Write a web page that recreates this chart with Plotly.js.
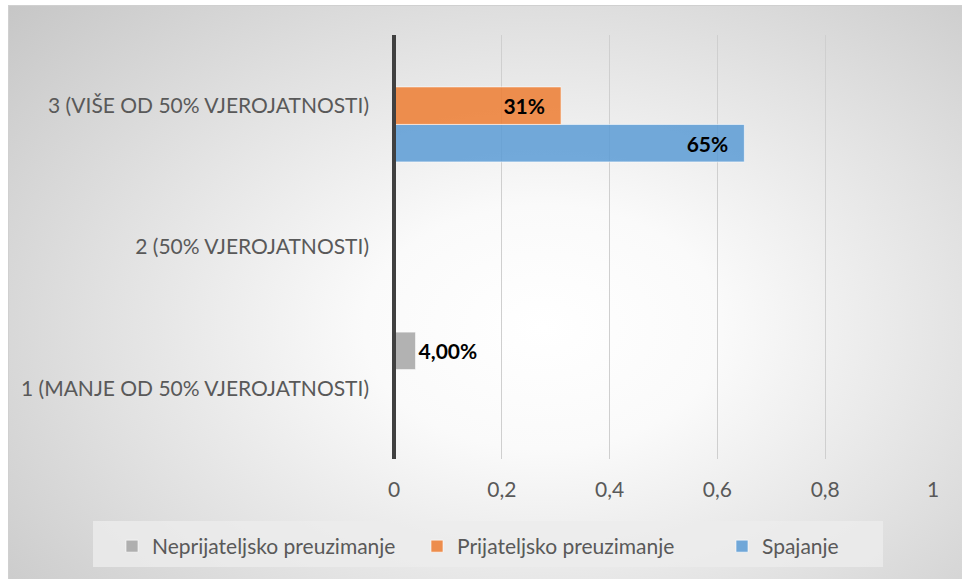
<!DOCTYPE html>
<html>
<head>
<meta charset="utf-8">
<script src="https://cdn.plot.ly/plotly-3.0.1.min.js"></script>
<style>
  html, body { margin:0; padding:0; background:#ffffff; }
  #wrap { position:absolute; left:0; top:0; width:962px; height:579px; overflow:hidden; }
  #bg { position:absolute; left:8px; top:5px; width:954px; height:574px;
        border-top:1px solid #d0d0d0; border-left:1px solid #d0d0d0;
        background: radial-gradient(ellipse 75% 85% at 56% 56%, #ffffff 0%, #fafafa 25%, #e2e2e2 60%, #c6c6c6 100%); }
  #chart { position:absolute; left:0; top:0; width:962px; height:579px; }
</style>
</head>
<body>
<div id="wrap">
  <div id="bg"></div>
  <div id="chart"></div>
</div>
<script>
const categories = ["1 (MANJE OD 50% VJEROJATNOSTI)", "2 (50% VJEROJATNOSTI)", "3 (VIŠE OD 50% VJEROJATNOSTI)"];
const seriesNames = ["Neprijateljsko preuzimanje", "Prijateljsko preuzimanje", "Spajanje"];
const neprijateljsko = [0.04, null, null];
const prijateljsko = [null, null, 0.31];
const spajanje = [null, null, 0.65];
const neprijateljskoLabels = ["4,00%", "", ""];
const prijateljskoLabels = ["", "", "31%"];
const spajanjeLabels = ["", "", "65%"];
const xTicks = [0, 0.2, 0.4, 0.6, 0.8, 1];

const FONT = "Lato, 'Open Sans', sans-serif";
const labelFont = {family: FONT, size: 21, color: "#000000", weight: "bold"};
const insidePad = "\u2002\u2009";

// plot area in px: x 394..933, y 35..459
const PL = 394, PW = 539, PT = 35, PH = 424;
const px2x = p => (p - PL) / PW;
const py2y = p => (PT + PH - p) / PH;

const traces = [
  {type:"bar", orientation:"h", name: seriesNames[2], y: categories, x: spajanje,
   text: spajanjeLabels, texttemplate: "%{text}" + insidePad,
   textposition: "inside", insidetextanchor: "end",
   textfont: labelFont,
   marker:{color:"rgba(91,155,213,0.85)", line:{color:"rgba(255,255,255,0.6)", width:1}},
   legendrank: 3, hoverinfo:"x+name"},
  {type:"bar", orientation:"h", name: seriesNames[1], y: categories, x: prijateljsko,
   text: prijateljskoLabels, texttemplate: "%{text}" + insidePad,
   textposition: "inside", insidetextanchor: "end",
   textfont: labelFont,
   marker:{color:"rgba(237,125,49,0.85)", line:{color:"rgba(255,255,255,0.6)", width:1}},
   legendrank: 2, hoverinfo:"x+name"},
  {type:"bar", orientation:"h", name: seriesNames[0], y: categories, x: neprijateljsko,
   text: neprijateljskoLabels, textposition: "outside",
   textfont: labelFont, cliponaxis:false,
   marker:{color:"rgba(165,165,165,0.85)", line:{color:"rgba(255,255,255,0.6)", width:1}},
   legendrank: 1, hoverinfo:"x+name"}
];

const layout = {
  width: 962, height: 579,
  paper_bgcolor: "rgba(0,0,0,0)", plot_bgcolor: "rgba(0,0,0,0)",
  separators: ", ",
  font: {family: FONT, size: 21, color: "#595959"},
  margin: {l: 394, r: 29, t: 35, b: 120, pad: 0, autoexpand: false},
  barmode: "group", bargap: 0.204, bargroupgap: 0,
  xaxis: {range: [0, 1], tickvals: xTicks, tickformat: ".1~f",
          showgrid: true, gridcolor: "#cfcfcf", gridwidth: 1,
          zeroline: false, showline: false, ticks: "",
          ticklabelstandoff: 16, tickfont: {family: FONT, size: 21, color: "#595959"},
          fixedrange: true},
  yaxis: {type: "category", categoryorder: "array", categoryarray: categories,
          showgrid: false, zeroline: false, showline: false, ticks: "",
          ticklabelstandoff: 24, tickfont: {family: FONT, size: 21, color: "#595959"},
          fixedrange: true},
  shapes: [
    {type: "rect", xref: "paper", yref: "paper",
     x0: px2x(93), x1: px2x(883), y0: py2y(567), y1: py2y(521),
     fillcolor: "rgba(236,236,236,0.8)", line: {width: 0}, layer: "below"},
    {type: "line", xref: "paper", yref: "paper", x0: 0, x1: 0, y0: 0, y1: 1,
     line: {color: "#404040", width: 4}, layer: "above"}
  ],
  legend: {orientation: "h", xref: "paper", yref: "paper",
           x: px2x(112), xanchor: "left", y: py2y(526), yanchor: "top",
           bgcolor: "rgba(0,0,0,0)", borderwidth: 0,
           traceorder: "normal", itemwidth: 30, entrywidth: 260,
           font: {family: FONT, size: 21, color: "#595959"}},
  showlegend: true
};

Plotly.newPlot("chart", traces, layout, {displayModeBar: false, staticPlot: true});
</script>
</body>
</html>
